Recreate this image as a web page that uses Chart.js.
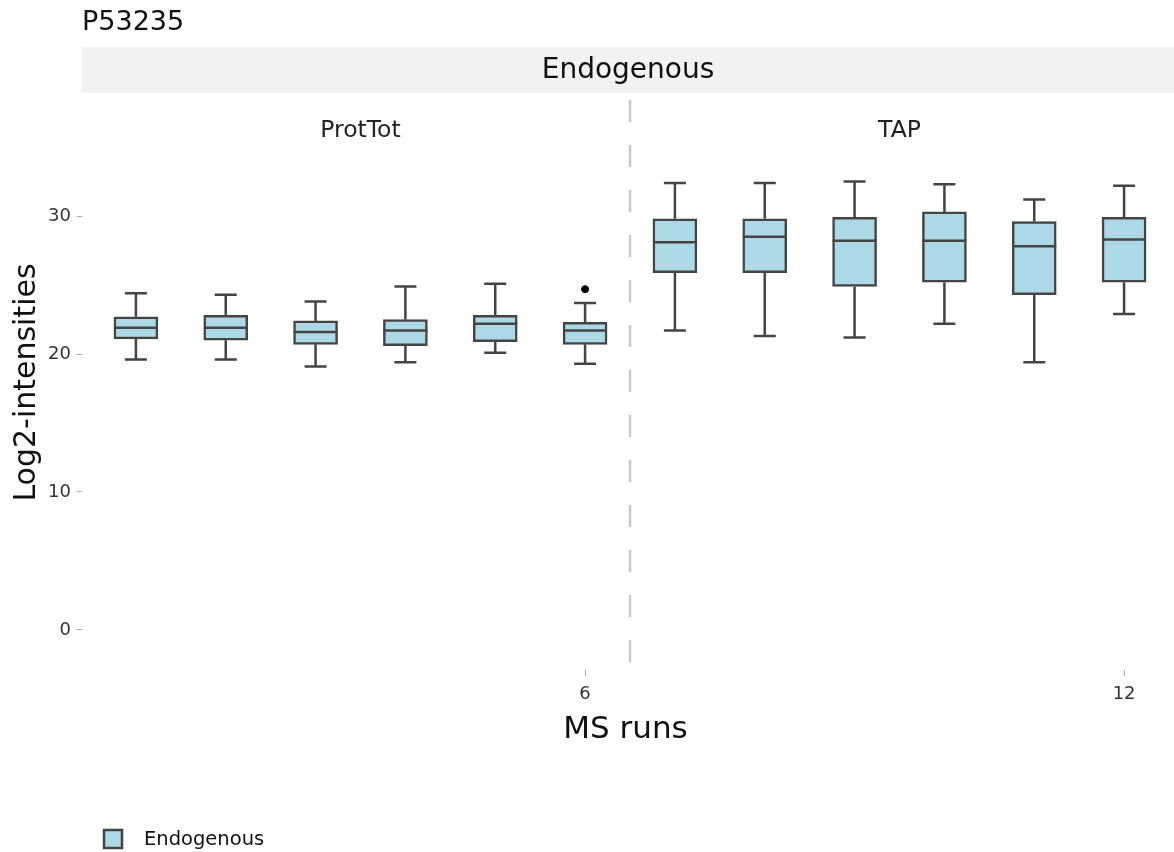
<!DOCTYPE html>
<html>
<head>
<meta charset="utf-8">
<script src="https://cdn.jsdelivr.net/npm/chart.js@4.4.0/dist/chart.umd.min.js"></script>
<style>
  body { margin: 0; background: #fff; }
  #wrap { width: 1174px; height: 852px; }
</style>
</head>
<body>
<div id="wrap"><canvas id="mycanvas" width="1174" height="852"></canvas></div>
<script>
// MS runs 1-6 are ProtTot, 7-12 are TAP
var runs = [1, 2, 3, 4, 5, 6, 7, 8, 9, 10, 11, 12];
var whiskerHigh = [24.4, 24.3, 23.8, 24.9, 25.1, 23.7, 32.4, 32.4, 32.5, 32.3, 31.2, 32.2];
var q3 = [22.7, 22.8, 22.4, 22.5, 22.8, 22.3, 29.8, 29.8, 29.9, 30.3, 29.6, 29.9];
var medians = [21.9, 21.9, 21.6, 21.7, 22.2, 21.7, 28.1, 28.5, 28.2, 28.2, 27.8, 28.3];
var q1 = [21.1, 21.0, 20.7, 20.6, 20.9, 20.7, 25.9, 25.9, 24.9, 25.2, 24.3, 25.2];
var whiskerLow = [19.6, 19.6, 19.1, 19.4, 20.1, 19.3, 21.7, 21.3, 21.2, 22.2, 19.4, 22.9];
var outlierRuns = [6];
var outlierValues = [24.7];
var xTickRuns = [6, 12];
var yTickValues = [0, 10, 20, 30];
var facets = ['ProtTot', 'TAP'];
var facetCenters = [3.5, 9.5];
var facetSplit = 6.5;

var boxFill = '#add8e6';
var boxLine = '#444444';
var font = 'DejaVu Sans';

var boxData = [];
for (var i in runs) {
    boxData.push({x: runs[i], y: [q1[i], q3[i]]});
}
var outlierData = [];
for (var j in outlierRuns) {
    outlierData.push({x: outlierRuns[j], y: outlierValues[j]});
}

var boxPlugin = {
    id: 'boxPlugin',
    beforeDatasetsDraw: function(chart) {
        var ctx = chart.ctx, xs = chart.scales.x, ys = chart.scales.y, a = chart.chartArea;
        ctx.save();
        // facet strip and title
        ctx.fillStyle = '#f2f2f2';
        ctx.fillRect(a.left, 47, chart.width - a.left, 46);
        ctx.fillStyle = '#111';
        ctx.textAlign = 'center';
        ctx.textBaseline = 'middle';
        ctx.font = '28px "' + font + '"';
        ctx.fillText('Endogenous', (a.left + chart.width) / 2, 71);
        ctx.textAlign = 'left';
        ctx.font = '27px "' + font + '"';
        ctx.fillText('P53235', a.left, 23);
        // sub panel labels
        ctx.textAlign = 'center';
        ctx.fillStyle = '#222';
        ctx.font = '23.5px "' + font + '"';
        for (var k in facets) {
            ctx.fillText(facets[k], xs.getPixelForValue(facetCenters[k]), 131);
        }
        // divider
        ctx.strokeStyle = '#c8c8c8';
        ctx.lineWidth = 2.5;
        ctx.setLineDash([22, 23]);
        var dx = xs.getPixelForValue(facetSplit);
        ctx.beginPath();
        ctx.moveTo(dx, a.top + 5);
        ctx.lineTo(dx, a.bottom);
        ctx.stroke();
        ctx.setLineDash([]);
        // whiskers
        ctx.strokeStyle = boxLine;
        ctx.lineWidth = 2.5;
        for (var i in runs) {
            var px = xs.getPixelForValue(runs[i]);
            ctx.beginPath();
            ctx.moveTo(px, ys.getPixelForValue(whiskerHigh[i]));
            ctx.lineTo(px, ys.getPixelForValue(q3[i]));
            ctx.moveTo(px, ys.getPixelForValue(q1[i]));
            ctx.lineTo(px, ys.getPixelForValue(whiskerLow[i]));
            ctx.moveTo(px - 11, ys.getPixelForValue(whiskerHigh[i]));
            ctx.lineTo(px + 11, ys.getPixelForValue(whiskerHigh[i]));
            ctx.moveTo(px - 11, ys.getPixelForValue(whiskerLow[i]));
            ctx.lineTo(px + 11, ys.getPixelForValue(whiskerLow[i]));
            ctx.stroke();
        }
        ctx.restore();
    },
    afterDatasetsDraw: function(chart) {
        var ctx = chart.ctx, xs = chart.scales.x, ys = chart.scales.y;
        ctx.save();
        ctx.strokeStyle = boxLine;
        ctx.lineWidth = 2.5;
        for (var i in runs) {
            var px = xs.getPixelForValue(runs[i]);
            var py = ys.getPixelForValue(medians[i]);
            ctx.beginPath();
            ctx.moveTo(px - 22, py);
            ctx.lineTo(px + 22, py);
            ctx.stroke();
        }
        ctx.restore();
    },
    afterDraw: function(chart) {
        // legend
        var ctx = chart.ctx;
        ctx.save();
        ctx.fillStyle = boxFill;
        ctx.strokeStyle = boxLine;
        ctx.lineWidth = 2.5;
        ctx.fillRect(104, 830, 18, 18);
        ctx.strokeRect(104, 830, 18, 18);
        ctx.fillStyle = '#111';
        ctx.font = '19.5px "' + font + '"';
        ctx.textAlign = 'left';
        ctx.textBaseline = 'middle';
        ctx.fillText('Endogenous', 144, 840);
        ctx.restore();
    }
};

var ctx = document.getElementById('mycanvas');
var boxChart = new Chart(ctx, {
    type: 'bar',
    data: {
        datasets: [
            {
                label: 'Endogenous',
                data: boxData,
                backgroundColor: boxFill,
                borderColor: boxLine,
                borderWidth: 2.5,
                borderSkipped: false,
                barThickness: 44,
                order: 2
            },
            {
                type: 'scatter',
                label: 'outliers',
                data: outlierData,
                backgroundColor: '#000',
                borderColor: '#000',
                pointRadius: 3.5,
                order: 1
            }
        ]
    },
    options: {
        responsive: false,
        animation: false,
        layout: {padding: {top: 95, right: 0, left: 0, bottom: 0}},
        plugins: {
            legend: {display: false},
            tooltip: {enabled: false}
        },
        scales: {
            x: {
                type: 'linear',
                offset: false,
                min: 0.4,
                max: 12.5,
                afterFit: function(scale) { scale.height = 182; },
                afterBuildTicks: function(scale) {
                    scale.ticks = xTickRuns.map(function(v) { return {value: v}; });
                },
                ticks: {
                    color: '#333',
                    padding: 8,
                    maxRotation: 0,
                    font: {family: font, size: 18}
                },
                grid: {display: true, offset: false, drawOnChartArea: false, tickLength: 6, color: '#aaa'},
                border: {display: false},
                title: {
                    display: true,
                    text: 'MS runs',
                    color: '#111',
                    font: {family: font, size: 31},
                    padding: {top: 0, bottom: 103}
                }
            },
            y: {
                min: -2.9,
                max: 38.77,
                afterFit: function(scale) { scale.width = 82; },
                afterBuildTicks: function(scale) {
                    scale.ticks = yTickValues.map(function(v) { return {value: v}; });
                },
                ticks: {
                    color: '#333',
                    padding: 6,
                    font: {family: font, size: 18}
                },
                grid: {display: true, drawOnChartArea: false, tickLength: 5, color: '#aaa'},
                border: {display: false},
                title: {
                    display: true,
                    text: 'Log2-intensities',
                    color: '#111',
                    font: {family: font, size: 30},
                    padding: {top: 9, bottom: 0}
                }
            }
        }
    },
    plugins: [boxPlugin]
});
</script>
</body>
</html>
